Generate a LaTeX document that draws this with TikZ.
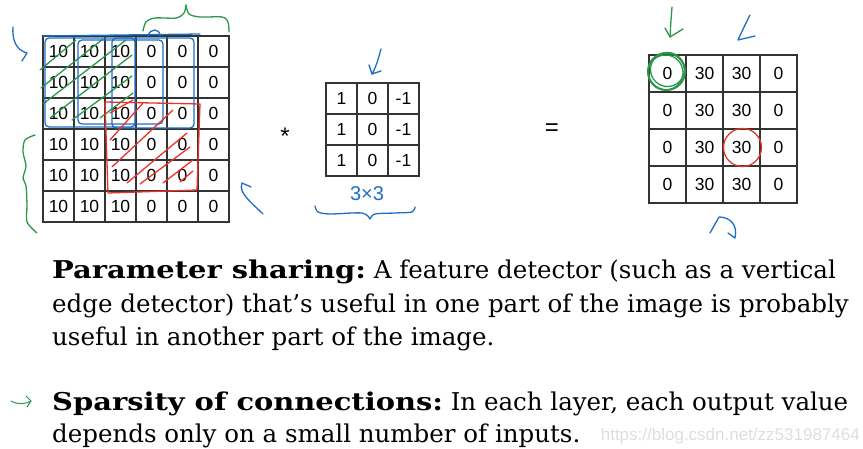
\documentclass[tikz,border=0pt]{standalone}
\usepackage{fontspec}
\usepackage{graphicx}
\setmainfont{DejaVu Serif}
\newfontfamily\cellfont{Liberation Sans}
\usepackage{tikz}
\usetikzlibrary{positioning, calc}

\definecolor{inkblue}{RGB}{30,110,195}
\definecolor{inkgreen}{RGB}{45,150,75}
\definecolor{inkred}{RGB}{235,50,40}
\newcommand\headword[1]{\scalebox{1.18}[1]{\textbf{#1}}}

\tikzset{
	cell/.style={draw=black!80, line width=1.1pt, minimum size=31pt, inner sep=0pt, font=\cellfont\fontsize{17.5}{20}\selectfont},
	outcell/.style={cell, minimum size=37pt},
	pen/.style={line width=1.3pt, line cap=round, line join=round},
	bodytext/.style={anchor=base west, inner sep=0pt, font=\fontsize{24.5}{28}\selectfont},
}

\begin{document}
\begin{tikzpicture}[x=1pt, y=-1pt]
					\useasboundingbox (0,0) rectangle (863,449);
					\foreach \r in {1,...,6}
						\foreach \c/\v in {1/10,2/10,3/10,4/0,5/0,6/0}
							\node[cell] (in-\r-\c) at ({43+31*(\c-0.5)}, {36+31*(\r-0.5)}) {\v};
					\foreach \r in {1,2,3}
						\foreach \c/\v in {1/1,2/0,3/-1}
							\node[cell] (k-\r-\c) at ({326+31*(\c-0.5)}, {83+31*(\r-0.5)}) {\v};
					\foreach \r in {1,...,4}
						\foreach \c/\v in {1/0,2/30,3/30,4/0}
							\node[outcell] (out-\r-\c) at ({649+37*(\c-0.5)}, {55+37*(\r-0.5)}) {\v};
					\node[font=\cellfont\fontsize{24}{24}\selectfont] (star) at (285,136) {*};
					\node[font=\cellfont\fontsize{24}{24}\selectfont] (eq) at (552,130) {=};

					\draw[pen, inkgreen] (40,70) -- (76,40); \draw[pen, inkgreen] (41,88) -- (103,39);
					\draw[pen, inkgreen] (43,104) -- (126,40); \draw[pen, inkgreen] (50,118) -- (132,55);
					\draw[pen, inkgreen] (72,120) -- (132,76); \draw[pen, inkgreen] (100,118) -- (133,93);
					\draw[pen, inkblue, rounded corners=4pt] (45,38) rectangle (135,127);
					\draw[pen, inkblue, rounded corners=4pt] (78,40) rectangle (163,124);
					\draw[pen, inkblue, rounded corners=4pt] (112,38) rectangle (194,128);
					\draw[pen, inkblue] (43,36) -- (200,34);
					\draw[pen, inkblue] (148,36) .. controls (150,28) and (160,28) .. (160,36);

					\draw[pen, inkred] (105,102) -- (200,104) -- (197,190) -- (108,193) -- cycle;
					\draw[pen, inkred] (110,113) -- (133,100); \draw[pen, inkred] (110,140) -- (143,103);
					\draw[pen, inkred] (112,167) -- (173,110); \draw[pen, inkred] (127,183) -- (187,133);
					\draw[pen, inkred] (140,184) -- (190,147); \draw[pen, inkred] (163,183) -- (193,160);
					\draw[pen, inkred] (180,182) -- (193,171);

					\draw[pen, inkgreen] plot[smooth] coordinates {(143,31) (146,22) (155,18) (176,18) (184,13) (186,5)};
					\draw[pen, inkgreen] plot[smooth] coordinates {(186,5) (189,14) (200,17) (222,17) (228,22) (229,32)};
					\draw[pen, inkgreen] plot[smooth] coordinates {(35,135) (25,140) (23,152) (26,166) (23,178) (26,186) (27,205) (27,222) (37,233)};

					\draw[pen, inkblue] (13,27) .. controls (12,40) and (16,50) .. (27,53) -- (22,61);
					\draw[pen, inkblue] (263,214) .. controls (252,203) and (238,193) .. (242,183) -- (251,187);
					\draw[pen, inkblue] (381,49) .. controls (378,60) and (376,67) .. (372,74) -- (381,71);
					\draw[pen, inkblue] (369,65) -- (372,74);
					\draw[pen, inkblue] plot[smooth] coordinates {(315,206) (318,212) (330,214) (362,213) (370,219)};
					\draw[pen, inkblue] plot[smooth] coordinates {(370,219) (375,214) (395,213) (412,212) (415,207)};
					\node[text=inkblue, font=\cellfont\fontsize{20}{20}\selectfont] (dims) at (367,194) {3×3};

					\draw[pen, inkgreen] (672,7) .. controls (671,20) .. (670,37);
					\draw[pen, inkgreen] (665,28) -- (670,37) -- (683,29);
					\draw[pen, inkblue] (750,15) .. controls (745,25) .. (738,40) -- (755,36);
					\draw[pen, inkblue] (710,233) -- (719,217) .. controls (730,217) and (738,225) .. (735,238) -- (728,233);
					\draw[pen, inkgreen, line width=2pt] ([shift={(-1,-2)}]out-1-1) circle (18.5pt);
					\draw[pen, inkgreen] ([shift={(0,-4)}]out-1-1) circle (17pt);
					\draw[pen, inkgreen] ([shift={(-2,-1)}]out-1-1) circle (17.5pt);
					\draw[pen, inkred] ([shift={(1,0)}]out-3-3) circle (19pt);

					\node[bodytext] (ps1) at (52,279) {\headword{Parameter sharing:} A feature detector (such as a vertical};
					\node[bodytext] (ps2) at (52,313) {edge detector) that’s useful in one part of the image is probably};
					\node[bodytext] (ps3) at (52,345) {useful in another part of the image.};
					\node[bodytext] (sc1) at (52,410) {\headword{Sparsity of connections:} In each layer, each output value};
					\node[bodytext] (sc2) at (52,442) {depends only on a small number of inputs.};
					\draw[pen, inkgreen, line width=1pt] (11,401) .. controls (18,405) and (26,404) .. (31,401);
					\draw[pen, inkgreen, line width=1pt] (26,396) -- (31,401) -- (27,407);
					\node[anchor=base east, inner sep=0pt, text=black!13, font=\cellfont\fontsize{17}{17}\selectfont] (wm) at (860,440) {https://blog.csdn.net/zz531987464};
				\end{tikzpicture}
\end{document}
